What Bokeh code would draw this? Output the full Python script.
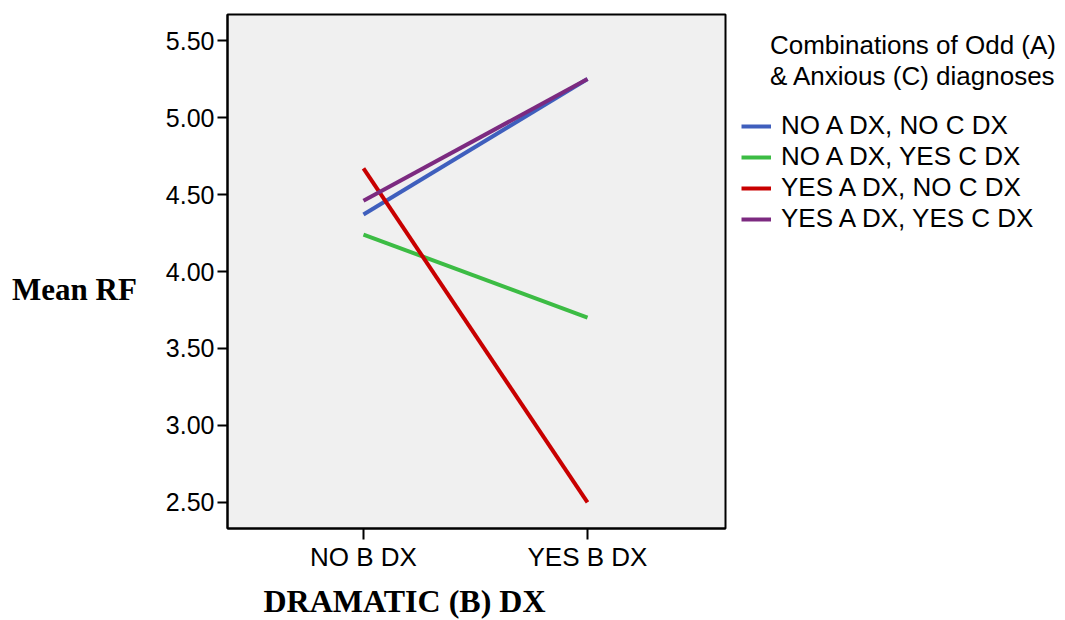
from bokeh.plotting import figure
from bokeh.models import Range1d, FixedTicker, Legend, LegendItem, NumeralTickFormatter, Title
from bokeh.embed import file_html
from bokeh.resources import INLINE

categories = ["NO B DX", "YES B DX"]
series_names = ["NO A DX, NO C DX", "NO A DX, YES C DX", "YES A DX, NO C DX", "YES A DX, YES C DX"]
no_a_no_c = [4.37, 5.25]
no_a_yes_c = [4.24, 3.70]
yes_a_no_c = [4.67, 2.50]
yes_a_yes_c = [4.46, 5.25]
y_ticks = [2.5, 3.0, 3.5, 4.0, 4.5, 5.0, 5.5]

series = [no_a_no_c, no_a_yes_c, yes_a_no_c, yes_a_yes_c]
colors = ["#3f5fbd", "#3cbc44", "#c80000", "#7c2a80"]

W, H = 1064, 616
FL, FT, FW, FH = 227, 14, 498, 514

p = figure(width=W, height=H, output_backend="svg", toolbar_location=None,
           x_range=Range1d(-0.607, 1.616), y_range=Range1d(2.331, 5.669),
           min_border_left=FL, min_border_top=FT,
           min_border_right=W - FL - FW, min_border_bottom=H - FT - FH)
p.frame_width = FW
p.frame_height = FH
p.background_fill_color = "#f0f0f0"
p.border_fill_color = "white"
p.outline_line_color = "black"
p.outline_line_width = 2
p.xgrid.visible = False
p.ygrid.visible = False

xs = list(range(len(categories)))
renderers = []
for vals, c in zip(series, colors):
    r = p.line(xs, vals, line_color=c, line_width=4)
    renderers.append(r)

for ax in (p.xaxis[0], p.yaxis[0]):
    ax.axis_line_color = "black"
    ax.axis_line_width = 2
    ax.major_tick_line_color = "black"
    ax.major_tick_line_width = 2
    ax.major_tick_in = 0
    ax.minor_tick_line_color = None
    ax.major_label_text_font = "Liberation Sans"
    ax.major_label_text_color = "black"

p.xaxis.ticker = FixedTicker(ticks=xs)
p.xaxis.major_label_overrides = {i: c for i, c in enumerate(categories)}
p.xaxis.major_tick_out = 11
p.xaxis.major_label_text_font_size = "26px"
p.xaxis.major_label_standoff = 2

p.yaxis.ticker = FixedTicker(ticks=y_ticks)
p.yaxis.formatter = NumeralTickFormatter(format="0.00")
p.yaxis.major_tick_out = 10
p.yaxis.major_label_text_font_size = "25px"
p.yaxis.major_label_standoff = 3

p.yaxis.axis_label = "\nMean RF"
p.yaxis.axis_label_orientation = "horizontal"
p.yaxis.axis_label_text_font = "Liberation Serif"
p.yaxis.axis_label_text_font_style = "bold"
p.yaxis.axis_label_text_font_size = "31px"
p.yaxis.axis_label_text_line_height = 1.0
p.yaxis.axis_label_text_color = "black"
p.yaxis.axis_label_standoff = 26

xt = Title(text="DRAMATIC (B) DX", align="left", offset=36, text_font="Liberation Serif",
           text_font_style="bold", text_font_size="32px", text_color="black", standoff=12)
p.add_layout(xt, "below")

nb = "\u00a0" * 4
items = [LegendItem(label=n, renderers=[r]) for n, r in zip(series_names, renderers)]
legend = Legend(items=items, location="top_left", orientation="vertical",
                title=nb + "Combinations of Odd (A)\n" + nb + "& Anxious (C) diagnoses")
legend.background_fill_alpha = 0
legend.border_line_color = None
legend.padding = 10
legend.margin = 16
legend.spacing = 0
legend.label_height = 30
legend.glyph_height = 30
legend.glyph_width = 30
legend.label_standoff = 10
legend.label_text_font = "Liberation Sans"
legend.label_text_font_size = "26px"
legend.label_text_color = "black"
legend.title_text_font = "Liberation Sans"
legend.title_text_font_size = "26px"
legend.title_text_font_style = "normal"
legend.title_text_color = "black"
legend.title_standoff = 18
p.add_layout(legend, "right")

open("out.html", "w").write(file_html(p, INLINE))
